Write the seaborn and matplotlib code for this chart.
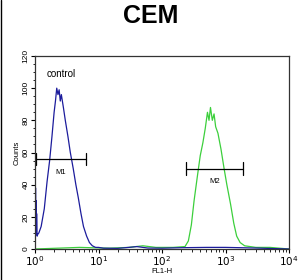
import numpy as np
import pandas as pd
import matplotlib
matplotlib.use("Agg")
import matplotlib.pyplot as plt
from matplotlib.lines import Line2D
from matplotlib.ticker import LogLocator, MultipleLocator, NullFormatter, FixedLocator, FixedFormatter
import seaborn as sns

title = "CEM"
x_label = "FL1-H"
y_label = "Counts"

control_x = [1.00, 1.01, 1.02, 1.03, 1.04, 1.05, 1.06, 1.08, 1.10, 1.15, 1.25, 1.40, 1.55,
             1.70, 1.85, 2.00, 2.10, 2.20, 2.30, 2.40, 2.50, 2.60, 2.80, 3.00, 3.30, 3.60,
             4.00, 4.40, 4.80, 5.30, 5.80, 6.50, 7.20, 8.00, 9.00, 10.0, 12.0, 20.0, 30.0,
             40.0, 60.0, 100.0, 200.0, 500.0, 1000.0, 3000.0, 10000.0]
control_y = [40, 8, 38, 12, 30, 9, 22, 8, 9, 10, 14, 25, 42,
             55, 70, 85, 92, 100, 96, 99, 92, 96, 88, 80, 70, 60,
             50, 40, 32, 22, 14, 8, 4, 2, 1, 1, 0.5, 0.4, 1.0,
             1.5, 0.6, 0.5, 0.8, 1.0, 1.0, 0.6, 0.0]

sample_x = [1.0, 5.0, 15.0, 30.0, 50.0, 80.0, 150.0, 230.0, 260.0, 290.0, 320.0, 360.0,
            400.0, 440.0, 480.0, 520.0, 550.0, 580.0, 620.0, 660.0, 700.0, 760.0, 850.0,
            950.0, 1050.0, 1200.0, 1350.0, 1500.0, 1700.0, 2000.0, 3000.0, 5000.0, 10000.0]
sample_y = [0, 1, 0.5, 1, 2, 1, 1, 1.5, 5, 15, 30, 45,
            58, 66, 75, 85, 80, 88, 80, 84, 76, 72, 62,
            50, 40, 28, 16, 8, 4, 2, 1, 1, 0]

markers = ["M1", "M2"]
marker_lo = [1.03, 240.0]
marker_hi = [6.3, 1900.0]
marker_y = [56, 50]

sns.set_theme(style="white")
plt.rcParams['font.family'] = ['Liberation Sans', 'DejaVu Sans']
plt.rcParams['text.color'] = 'black'
plt.rcParams['axes.labelcolor'] = 'black'
plt.rcParams['xtick.color'] = 'black'
plt.rcParams['ytick.color'] = 'black'

fig = plt.figure(figsize=(3.06, 2.80), dpi=100)
ax = fig.add_axes([35/306, 1 - 249/280, 254/306, 193/280])

df_s = pd.DataFrame({"x": sample_x, "y": sample_y})
df_c = pd.DataFrame({"x": control_x, "y": control_y})
sns.lineplot(data=df_s, x="x", y="y", ax=ax, color="#3ccf3c", lw=0.9, sort=False, estimator=None)
sns.lineplot(data=df_c, x="x", y="y", ax=ax, color="#1c1c9c", lw=0.9, sort=False, estimator=None)

ax.set_xscale("log")
ax.set_xlim(1, 10000)
ax.set_ylim(0, 120)

for name, lo, hi, yv in zip(markers, marker_lo, marker_hi, marker_y):
    ax.plot([lo, hi], [yv, yv], color="black", lw=0.9)
    ax.plot([lo, lo], [yv - 4, yv + 4], color="black", lw=0.9)
    ax.plot([hi, hi], [yv - 4, yv + 4], color="black", lw=0.9)
    ax.text(np.sqrt(lo * hi), yv - 6, name, ha="center", va="top", fontsize=5.5, color="black")

ax.text(1.55, 112, "control", ha="left", va="top", fontsize=7, color="black")

ax.xaxis.set_major_locator(FixedLocator([1, 10, 100, 1000, 10000]))
ax.xaxis.set_major_formatter(FixedFormatter([r"$10^0$", r"$10^1$", r"$10^2$", r"$10^3$", r"$10^4$"]))
ax.xaxis.set_minor_locator(LogLocator(base=10, subs=np.arange(2, 10), numticks=20))
ax.xaxis.set_minor_formatter(NullFormatter())
ax.yaxis.set_major_locator(MultipleLocator(20))
ax.yaxis.set_minor_locator(MultipleLocator(5))

ax.tick_params(axis="both", which="major", direction="out", length=3, width=0.8,
               labelsize=7.5, pad=1, bottom=True, left=True, colors="black")
ax.tick_params(axis="both", which="minor", direction="out", length=1.8, width=0.6,
               bottom=True, left=True, colors="black")
for lbl in ax.get_yticklabels():
    lbl.set_rotation(90)
    lbl.set_va("center")
    lbl.set_fontsize(6)

ax.set_xlabel(x_label, fontsize=5.5, labelpad=0, color="black")
ax.set_ylabel(y_label, fontsize=5.5, labelpad=1, color="black")

for s in ax.spines.values():
    s.set_color("#333333")
    s.set_linewidth(0.9)

fig.text(151/306, 1 - 16/280, title, ha="center", va="center", fontsize=18,
         fontweight="bold", color="black")
fig.add_artist(Line2D([0.5/306, 0.5/306], [0, 1], color="black", lw=1, transform=fig.transFigure))

fig.savefig("out.png", dpi=100)
